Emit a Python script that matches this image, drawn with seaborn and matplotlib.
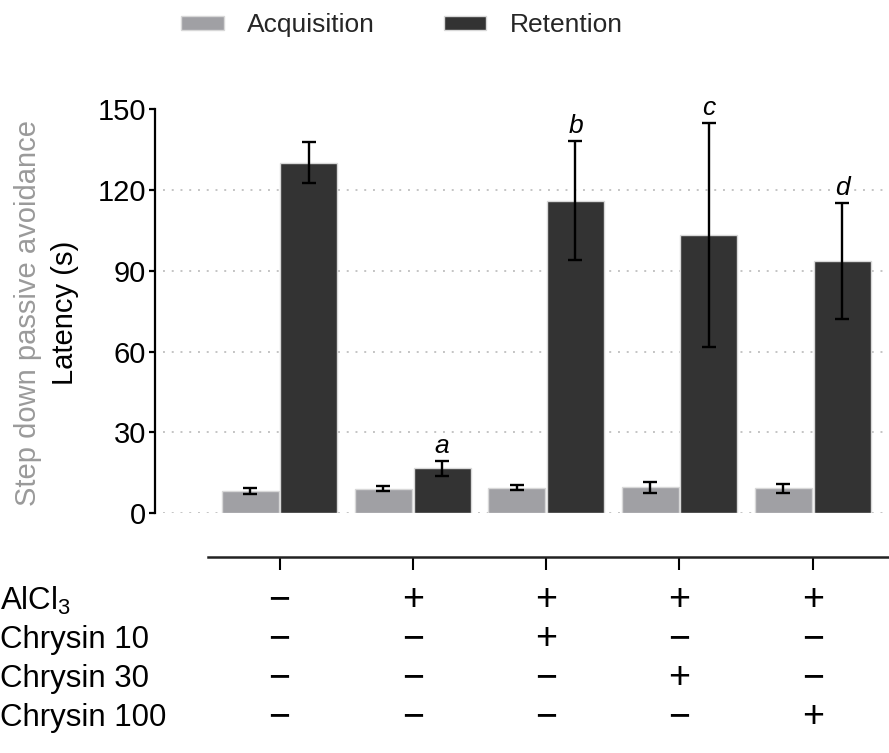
import numpy as np
import pandas as pd
import matplotlib
matplotlib.use("Agg")
import matplotlib.pyplot as plt
import seaborn as sns
from matplotlib.patches import Patch

# ---- data ----
groups = ["Control", "AlCl3", "AlCl3+Chr10", "AlCl3+Chr30", "AlCl3+Chr100"]
acq_mean = [8.3, 9.1, 9.5, 9.6, 9.3]
acq_err = [1.0, 1.0, 0.9, 1.9, 1.7]
ret_mean = [130.0, 16.7, 116.0, 103.3, 93.6]
ret_err = [7.6, 2.8, 22.2, 41.5, 21.5]
sig_letters = ["", "a", "b", "c", "d"]
series_names = ["Acquisition", "Retention"]
row_labels = ["AlCl$_3$", "Chrysin 10", "Chrysin 30", "Chrysin 100"]
row_alcl3 = ["−", "+", "+", "+", "+"]
row_chr10 = ["−", "−", "+", "−", "−"]
row_chr30 = ["−", "−", "−", "+", "−"]
row_chr100 = ["−", "−", "−", "−", "+"]
yticks = [0, 30, 60, 90, 120, 150]

sns.set_theme(style="white")
plt.rcParams["font.family"] = ["Liberation Sans", "DejaVu Sans"]
plt.rcParams["mathtext.default"] = "regular"

colors = {"Acquisition": "#a0a0a4", "Retention": "#333333"}

df = pd.DataFrame({
    "group": groups * 2,
    "phase": ["Acquisition"] * len(groups) + ["Retention"] * len(groups),
    "value": acq_mean + ret_mean,
})

W, H = 889, 753
fig = plt.figure(figsize=(W / 100, H / 100), dpi=100)
ax = fig.add_axes([163 / W, 1 - 513.3 / H, (885 - 163) / W, (513.3 - 109) / H])

sns.barplot(data=df, x="group", y="value", hue="phase", order=groups,
            hue_order=series_names, palette=colors, width=0.88, gap=0.03,
            edgecolor="#d8d8d8", linewidth=1.0, errorbar=None, ax=ax,
            legend=False, zorder=2)

# error bars + letters
for cont, means, errs in zip(ax.containers, [acq_mean, ret_mean], [acq_err, ret_err]):
    xs = [p.get_x() + p.get_width() / 2 for p in cont.patches]
    ax.errorbar(xs, means, yerr=errs, fmt="none", ecolor="black",
                elinewidth=1.7, capsize=4.8, capthick=1.7, zorder=3, clip_on=False)
ret_x = [p.get_x() + p.get_width() / 2 for p in ax.containers[1].patches]
for x, m, e, lab in zip(ret_x, ret_mean, ret_err, sig_letters):
    if lab:
        ax.text(x, m + e + 1.2, lab, ha="center", va="bottom", fontsize=19,
                style="italic", color="black", clip_on=False)

ax.set_xlim(-0.874, 4.542)
ax.set_ylim(0, 150)
ax.set_yticks(yticks)
ax.set_yticklabels([str(t) for t in yticks])
ax.set_xticks([])
ax.set_xlabel("")
ax.set_ylabel("")
for s in ["top", "right", "bottom"]:
    ax.spines[s].set_visible(False)
ax.spines["left"].set_position(("outward", 6))
ax.spines["left"].set_linewidth(1.6)
ax.spines["left"].set_color("black")
ax.tick_params(axis="y", direction="out", length=4, width=1.6, pad=2,
               colors="black", left=True, labelsize=21)
ax.set_axisbelow(True)
ax.yaxis.grid(True, color="#c4c4c4", linestyle=(0, (1, 3.5)), linewidth=1.4)
ax.get_ygridlines()[-1].set_visible(False)

# y labels
fig.text(28 / W, 1 - 312.5 / H, "Step down passive avoidance", rotation=90,
         ha="center", va="center", fontsize=21, color="#9a9a9a")
fig.text(65 / W, 1 - 312.5 / H, "Latency (s)", rotation=90,
         ha="center", va="center", fontsize=21, color="black")

# lower treatment axis
ax2 = fig.add_axes([163 / W, 1 - 557 / H, (885 - 163) / W, 0.001])
ax2.set_xlim(ax.get_xlim())
ax2.set_ylim(0, 1)
ax2.set_xticks(range(len(groups)))
ax2.set_xticklabels([])
ax2.set_yticks([])
for s in ["top", "right", "left"]:
    ax2.spines[s].set_visible(False)
ax2.spines["bottom"].set_linewidth(1.8)
ax2.spines["bottom"].set_color("#222222")
ax2.spines["bottom"].set_bounds(-0.54, 4.7)
ax2.tick_params(axis="x", direction="out", length=9, width=1.5, colors="black", bottom=True)
ax2.patch.set_visible(False)

rows = [row_alcl3, row_chr10, row_chr30, row_chr100]
row_y = [601, 640, 679, 718]
for lab, signs, yp in zip(row_labels, rows, row_y):
    fig.text(0.5 / W, 1 - yp / H, lab, ha="left", va="center", fontsize=22.5, color="black")
    for gi, sgn in enumerate(signs):
        xf = ax2.transData.transform((gi, 0))[0]
        fig.text(xf / W, 1 - (yp - 1) / H, sgn, ha="center", va="center", fontsize=27,
                 color="black")

# legend
handles = [Patch(facecolor=colors[n], edgecolor="#d8d8d8", label=n) for n in series_names]
fig.legend(handles=handles, loc="center", bbox_to_anchor=(402 / W, 1 - 25 / H), ncol=2,
           frameon=False, fontsize=19, handlelength=1.6, handleheight=0.45,
           handletextpad=0.9, columnspacing=2.6)

fig.savefig("out.png", dpi=100)
